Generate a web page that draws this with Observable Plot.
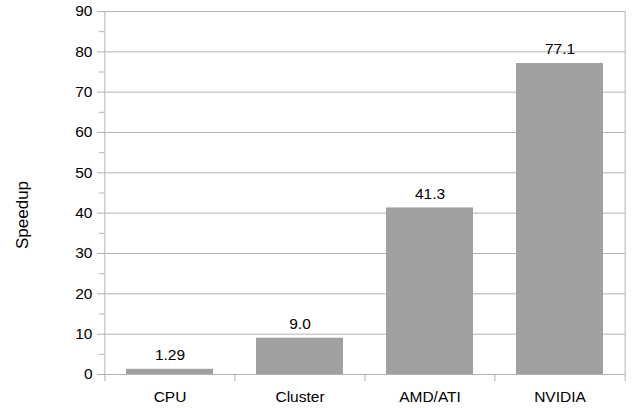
<!DOCTYPE html>
<html><head><meta charset="utf-8">
<script src="https://cdn.jsdelivr.net/npm/d3@7"></script>
<script src="https://cdn.jsdelivr.net/npm/@observablehq/plot@0.6"></script>
<style>body{margin:0;background:#fff;font-family:"Liberation Sans",Arial,sans-serif}</style>
</head><body><div id="chart"></div>
<script>
const categories = ["CPU", "Cluster", "AMD/ATI", "NVIDIA"];
const speedups = [1.29, 9.0, 41.3, 77.1];
const valueLabels = ["1.29", "9.0", "41.3", "77.1"];
const majorTicks = [0, 10, 20, 30, 40, 50, 60, 70, 80, 90];
const minorTicks = [5, 15, 25, 35, 45, 55, 65, 75, 85];
const yLabel = "Speedup";

const data = categories.map((c, i) => ({cat: c, v: speedups[i], label: valueLabels[i]}));

const W = 632, H = 408, mL = 104, mR = 7, mT = 11, mB = 34;
const half = (W - mL - mR) / categories.length / 2;
const grid = "#b3b3b3";
const fs = 15.5;

const plot = Plot.plot({
  width: W, height: H,
  marginLeft: mL, marginRight: mR, marginTop: mT, marginBottom: mB,
  style: {fontFamily: "Liberation Sans, Arial, sans-serif", fontSize: fs + "px", color: "#000", background: "#fff"},
  x: {domain: categories, paddingInner: 0.33, paddingOuter: 0.165, label: null},
  y: {domain: [0, 90], label: null},
  marks: [
    Plot.ruleY(majorTicks, {stroke: grid, strokeWidth: 1}),
    Plot.barY(data, {x: "cat", y: "v", fill: "#a0a0a0"}),
    Plot.text(data, {x: "cat", y: "v", text: "label", dy: -14, fill: "#000", fontSize: fs}),
    Plot.axisY({ticks: majorTicks, tickSize: 7, tickPadding: 5, stroke: grid, label: null, fontSize: fs}),
    Plot.axisY({ticks: minorTicks, tickSize: 5, text: null, stroke: grid, label: null}),
    Plot.axisX({tickSize: 0, tickPadding: 16, label: null, fontSize: fs}),
    Plot.ruleX([categories[0]], {x: d => d, dx: -half, stroke: grid, insetBottom: -7}),
    Plot.ruleX([categories[categories.length - 1]], {x: d => d, dx: half, stroke: grid, insetBottom: -7}),
    Plot.ruleX(categories.slice(1), {x: d => d, dx: -half, y1: 0, y2: 0, stroke: grid, insetBottom: -7}),
    Plot.text([yLabel], {frameAnchor: "left", textAnchor: "middle", rotate: -90, dx: -82, dy: 22, fill: "#000", fontSize: 17})
  ]
});
document.getElementById("chart").appendChild(plot);
</script>
</body></html>
